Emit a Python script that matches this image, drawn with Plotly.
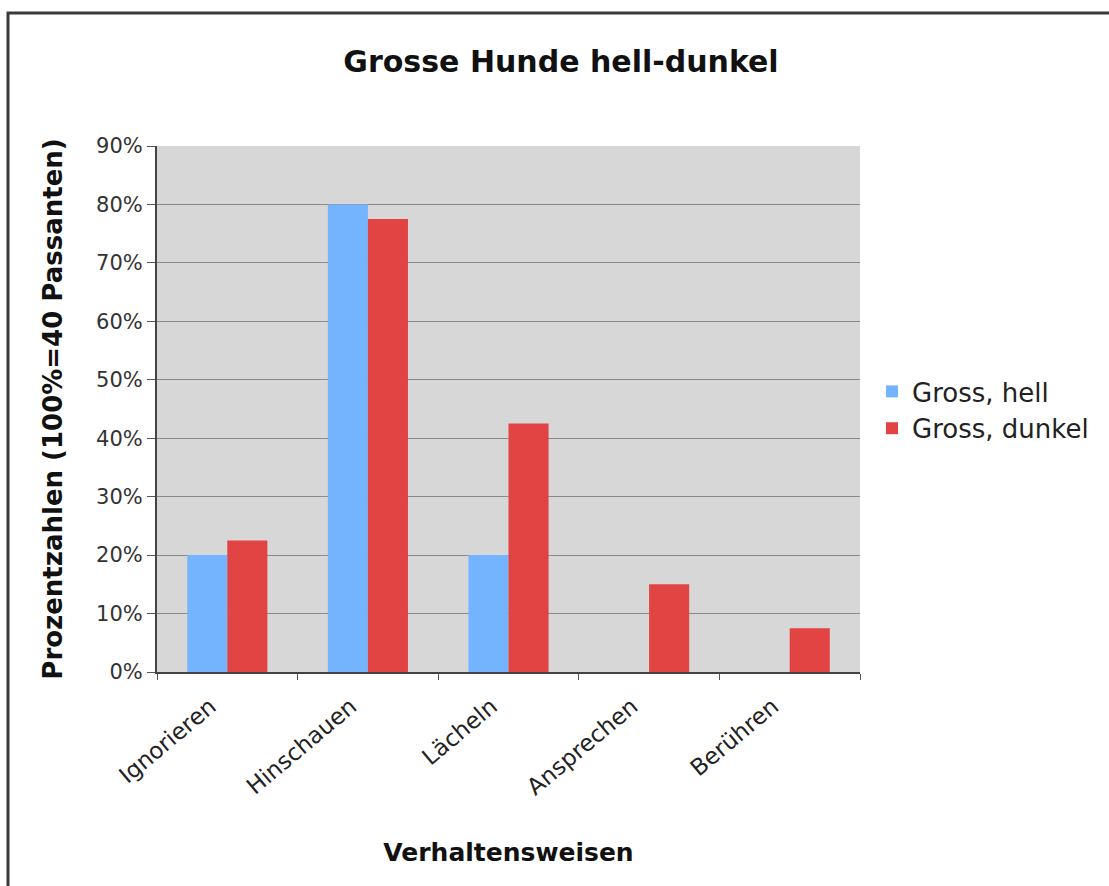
import plotly.graph_objects as go

# Verhaltensweisen der Passanten (Anteile in %, 100% = 40 Passanten)
categories = ["Ignorieren", "Hinschauen", "Lächeln", "Ansprechen", "Berühren"]
gross_hell = [20.0, 80.0, 20.0, 0.0, 0.0]
gross_dunkel = [22.5, 77.5, 42.5, 15.0, 7.5]
y_ticks = [0, 10, 20, 30, 40, 50, 60, 70, 80, 90]
y_tick_labels = [f"{v}%" for v in y_ticks]

FONT = "DejaVu Sans"

fig = go.Figure()
fig.add_trace(go.Bar(
    x=categories, y=gross_hell, name="Gross, hell",
    marker=dict(color="#74B4FF", line=dict(width=0)),
))
fig.add_trace(go.Bar(
    x=categories, y=gross_dunkel, name="Gross, dunkel",
    marker=dict(color="#E24343", line=dict(width=0)),
))

W, H = 1109, 886
L, R, T, B = 157, 249, 146, 214
pw, ph = W - L - R, H - T - B


def px_x(px):
    return (px - L) / pw


def px_y(py):
    return (H - B - py) / ph


fig.update_layout(
    width=W, height=H,
    margin=dict(l=L, r=R, t=T, b=B, autoexpand=False),
    paper_bgcolor="white",
    plot_bgcolor="#D7D7D7",
    barmode="group",
    bargap=0.43,
    bargroupgap=0.0,
    font=dict(family=FONT, color="#222222"),
    title=dict(
        text="<b>Grosse Hunde hell-dunkel</b>",
        font=dict(family=FONT, size=30, color="#111111"),
        x=px_x(561), xref="paper", xanchor="center",
        y=1 - 61 / H, yref="container", yanchor="middle",
    ),
    legend=dict(
        x=px_x(872), xanchor="left",
        y=px_y(410), yanchor="middle",
        font=dict(family=FONT, size=26, color="#222222"),
        bgcolor="rgba(0,0,0,0)",
        itemsizing="constant",
        itemwidth=30,
        tracegroupgap=4,
    ),
    xaxis=dict(
        type="category",
        tickson="boundaries",
        ticks="outside", ticklen=6, tickcolor="#555555",
        tickangle=-40,
        ticklabelstandoff=10,
        ticklabelshift=-17,
        tickfont=dict(family=FONT, size=23, color="#222222"),
        showline=True, linecolor="#444444", linewidth=2,
        showgrid=False,
        title=dict(text="<b>Verhaltensweisen</b>",
                   font=dict(family=FONT, size=25, color="#111111"),
                   standoff=44),
    ),
    yaxis=dict(
        range=[0, 90],
        tickvals=y_ticks, ticktext=y_tick_labels,
        ticks="outside", ticklen=8, tickcolor="#555555",
        tickfont=dict(family=FONT, size=21, color="#333333"),
        showline=True, linecolor="#444444", linewidth=2,
        showgrid=True, gridcolor="#8A8A8A", gridwidth=1,
        zeroline=False,
        title=dict(text="<b>Prozentzahlen (100%=40 Passanten)</b>",
                   font=dict(family=FONT, size=26, color="#111111"),
                   standoff=26),
    ),
    shapes=[
        # outer frame around the chart
        dict(type="rect", xref="paper", yref="paper",
             x0=px_x(8), x1=px_x(1125), y0=px_y(905), y1=px_y(13),
             line=dict(color="#3A3A3A", width=3), fillcolor="rgba(0,0,0,0)",
             layer="above"),
    ],
)

fig.write_html("out.html")
